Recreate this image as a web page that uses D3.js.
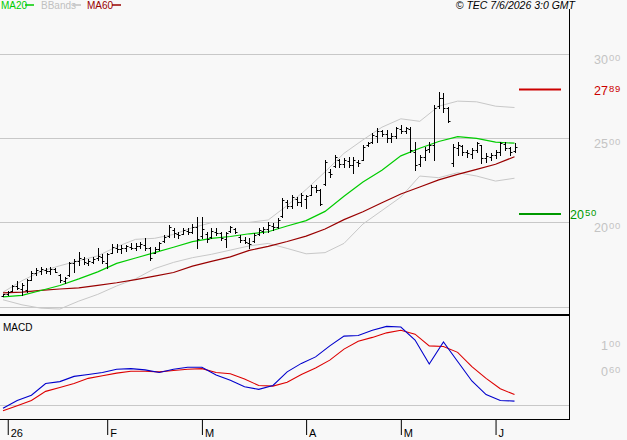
<!DOCTYPE html>
<html>
<head>
<meta charset="utf-8">
<script src="https://cdn.jsdelivr.net/npm/d3@7"></script>
<style>
  body { margin: 0; background: #f8f8f8; }
  svg { display: block; font-family: "Liberation Sans", Arial, sans-serif; }
</style>
</head>
<body>
<div id="chart"></div>
<script>
// daily bars, 31 Dec 2025 .. 5 Jun 2026
const holidays = ["2026-01-01", "2026-04-03", "2026-04-06", "2026-05-01"];
const monthLabels = ["26", "F", "M", "A", "M", "J"];

const opens = [1565,1572,1595,1620,1605,1600,1660,1700,1712,1718,1710,1720,1690,1650,1685,1760,1770,1785,1760,1765,
  1790,1795,1760,1820,1850,1840,1848,1855,1850,1858,1865,1845,1820,1840,1890,1920,1955,1930,1930,1950,
  1945,1970,1920,1930,1910,1945,1935,1900,1950,1960,1915,1895,1880,1890,1930,1950,1960,1980,1975,2035,
  2120,2100,2140,2120,2140,2165,2210,2190,2225,2300,2335,2370,2345,2365,2340,2360,2372,2458,2475,2515,
  2540,2525,2500,2510,2555,2545,2555,2420,2345,2390,2435,2460,2690,2740,2680,2350,2440,2455,2420,2405,
  2430,2460,2380,2390,2400,2415,2465,2440,2425];
const highs = [1577,1593,1627,1653,1641,1662,1710,1726,1736,1726,1732,1726,1696,1676,1766,1782,1825,1795,1785,1795,
  1849,1811,1815,1869,1869,1865,1865,1875,1875,1885,1905,1855,1855,1885,1924,1984,1964,1944,1968,1968,
  1988,2032,2032,1944,1964,1968,1944,1944,1980,1968,1924,1914,1905,1934,1964,1974,2004,1994,2024,2143,
  2133,2162,2153,2172,2162,2222,2222,2196,2371,2315,2401,2375,2381,2391,2387,2371,2460,2480,2530,2559,
  2549,2549,2530,2569,2579,2569,2569,2480,2401,2450,2475,2698,2772,2768,2688,2465,2480,2460,2430,2440,
  2480,2460,2411,2411,2430,2480,2480,2450,2470];
const lows = [1563,1567,1593,1601,1567,1587,1657,1686,1696,1700,1696,1702,1647,1637,1680,1706,1746,1752,1746,1756,
  1776,1756,1726,1815,1825,1819,1831,1841,1835,1845,1835,1776,1815,1835,1885,1914,1914,1908,1928,1928,
  1934,1845,1905,1885,1905,1924,1895,1855,1944,1934,1885,1875,1850,1885,1924,1934,1944,1954,1964,2030,
  2083,2083,2103,2097,2083,2162,2182,2103,2222,2272,2331,2327,2331,2327,2291,2337,2371,2454,2470,2480,
  2510,2480,2480,2500,2530,2530,2420,2311,2336,2371,2415,2371,2678,2655,2596,2336,2401,2401,2391,2381,
  2420,2351,2361,2371,2381,2401,2430,2401,2420];
const closes = [1572,1588,1620,1610,1630,1655,1700,1715,1720,1712,1722,1705,1660,1670,1760,1770,1790,1765,1770,1785,
  1800,1770,1810,1855,1840,1850,1858,1850,1860,1870,1850,1790,1840,1875,1915,1970,1935,1925,1955,1945,
  1975,1900,1960,1900,1950,1935,1905,1935,1970,1945,1895,1885,1870,1925,1955,1960,1985,1970,2015,2130,
  2100,2150,2120,2160,2155,2210,2195,2110,2360,2290,2390,2345,2370,2340,2370,2350,2450,2470,2520,2540,
  2525,2500,2515,2560,2545,2560,2430,2340,2390,2430,2460,2680,2740,2680,2600,2450,2460,2420,2410,2430,
  2470,2380,2395,2400,2420,2470,2440,2420,2450];

// indicator lines, one value every 4 bars
const lineStep = 4;
const ma20 = [1557,1566,1595,1625,1664,1706,1756,1788,1820,1852,1885,1905,1916,1932,1944,1978,2010,2065,2155,2240,2310,2395,2440,2480,2509,2499,2476,2470];
const ma60 = [1581,1585,1596,1604,1611,1625,1641,1660,1680,1702,1740,1768,1795,1833,1857,1886,1918,1960,2016,2063,2116,2168,2210,2252,2285,2315,2345,2390];
const bbUpper = [1585,1653,1708,1742,1772,1801,1855,1899,1905,1928,1968,1998,2000,2000,2014,2100,2195,2300,2410,2490,2565,2615,2600,2690,2720,2716,2690,2682];
const bbLower = [1540,1510,1490,1485,1532,1572,1622,1665,1725,1762,1790,1810,1835,1860,1875,1845,1813,1820,1875,1990,2070,2150,2275,2265,2295,2275,2245,2262];

// MACD panel, one value every 3 bars
const macdStep = 3;
const macd = [-5,7,15,33,36,44,47,50,55,56,54,50,55,58,58,46,38,28,24,30,51,64,74,91,106,107,115,121,120,100,63,97,67,37,16,7,6];
const signal = [-9,-1,7,21,27,33,41,45,49,52,52,51,53,55,56,50,48,40,30,29,35,47,57,69,86,98,104,111,115,109,91,90,81,59,41,25,16];

const priceTicks = [2000, 2500, 3000];
const priceGrid = [1500, 2000, 2500, 3000];
const macdTicks = [100, 60];
const levels = [{ v: 2789, color: "#cc0000", lx: 594 }, { v: 2050, color: "#009900", lx: 570 }];

const width = 627, height = 440;
const right = 569.5;

const dates = d3.timeDay.range(new Date(2025, 11, 31), new Date(2026, 5, 6))
  .filter(d => d.getDay() !== 0 && d.getDay() !== 6 && !holidays.includes(d3.timeFormat("%Y-%m-%d")(d)));
const monthIdx = [];
dates.forEach((d, i) => {
  if (i > 0 && d.getMonth() !== dates[i - 1].getMonth()) monthIdx.push(i);
});

const svg = d3.select("#chart").append("svg")
  .attr("width", width)
  .attr("height", height);

svg.append("rect").attr("width", width).attr("height", height).attr("fill", "#f8f8f8");

const x = d3.scaleLinear().domain([0, dates.length - 1]).range([3, 514.5]);
const y = d3.scaleLinear().domain([1500, 3000]).range([306.5, 54]);
const ym = d3.scaleLinear().domain([0, 100]).range([405, 340]);

const px = i => Math.round(x(i)) + 0.5;

// grid
svg.selectAll("line.grid")
  .data(priceGrid)
  .enter().append("line")
  .attr("class", "grid")
  .attr("x1", 0).attr("x2", right)
  .attr("y1", d => Math.round(y(d)) + 0.5)
  .attr("y2", d => Math.round(y(d)) + 0.5)
  .attr("stroke", "#c8c8c8");

svg.append("line")
  .attr("x1", 0).attr("x2", right)
  .attr("y1", ym(0) + 0.5).attr("y2", ym(0) + 0.5)
  .attr("stroke", "#c8c8c8");

// superscript style labels: "30" + small "00"
function supLabel(g, big, small, color) {
  let t = g.append("text").attr("fill", color);
  t.append("tspan").attr("font-size", 12.5).text(big);
  t.append("tspan").attr("font-size", 9.5).attr("dx", 1).attr("dy", -3).attr("letter-spacing", 0.8).text(small);
  return t;
}

priceTicks.forEach(v => {
  let g = svg.append("g").attr("transform", "translate(594," + (y(v) + 10) + ")");
  supLabel(g, String(Math.floor(v / 100)), String(v % 100).padStart(2, "0"), "#c4c4c4");
});

macdTicks.forEach(v => {
  let g = svg.append("g").attr("transform", "translate(601," + (ym(v) + 9.5) + ")");
  supLabel(g, String(Math.floor(v / 100)), String(v % 100).padStart(2, "0"), "#c4c4c4");
});

// level lines
levels.forEach(l => {
  svg.append("line")
    .attr("x1", 519).attr("x2", 561)
    .attr("y1", y(l.v)).attr("y2", y(l.v))
    .attr("stroke", l.color).attr("stroke-width", 2);
  let g = svg.append("g").attr("transform", "translate(" + l.lx + "," + (y(l.v) + 5) + ")");
  supLabel(g, String(Math.floor(l.v / 100)), String(l.v % 100).padStart(2, "0"), l.color);
});

// indicator lines
const sampled = (arr, step, scale) => d3.line()
  .x((d, i) => x(i * step))
  .y(d => scale(d))(arr);

[[bbUpper, "#c8c8c8", 1], [bbLower, "#c8c8c8", 1], [ma60, "#990000", 1.2], [ma20, "#00cc00", 1.2]]
  .forEach(([arr, color, w]) => {
    svg.append("path")
      .attr("d", sampled(arr, lineStep, y))
      .attr("fill", "none")
      .attr("stroke", color)
      .attr("stroke-width", w);
  });

// OHLC bars
const bar = svg.append("g").attr("stroke", "#000").attr("stroke-width", 1);
bar.selectAll("line.hl")
  .data(highs)
  .enter().append("line")
  .attr("x1", (d, i) => px(i)).attr("x2", (d, i) => px(i))
  .attr("y1", d => Math.round(y(d)))
  .attr("y2", (d, i) => Math.round(y(lows[i])) + 1);
bar.selectAll("line.op")
  .data(opens)
  .enter().append("line")
  .attr("x1", (d, i) => px(i) - 2).attr("x2", (d, i) => px(i))
  .attr("y1", d => Math.round(y(d)) + 0.5).attr("y2", d => Math.round(y(d)) + 0.5);
bar.selectAll("line.cl")
  .data(closes)
  .enter().append("line")
  .attr("x1", (d, i) => px(i)).attr("x2", (d, i) => px(i) + 2)
  .attr("y1", d => Math.round(y(d)) + 0.5).attr("y2", d => Math.round(y(d)) + 0.5);

// MACD
[[signal, "#dd0000"], [macd, "#0000cc"]].forEach(([arr, color]) => {
  svg.append("path")
    .attr("d", sampled(arr, macdStep, ym))
    .attr("fill", "none")
    .attr("stroke", color)
    .attr("stroke-width", 1.1);
});

// frame
svg.append("line").attr("x1", right).attr("x2", right).attr("y1", 9).attr("y2", 420)
  .attr("stroke", "#000");
svg.append("line").attr("x1", 0).attr("x2", right + 0.5).attr("y1", 315).attr("y2", 315)
  .attr("stroke", "#000").attr("stroke-width", 2);
svg.append("line").attr("x1", 0).attr("x2", right + 0.5).attr("y1", 419.5).attr("y2", 419.5)
  .attr("stroke", "#000");

// time axis
const xAxis = d3.axisBottom(x)
  .tickValues(monthIdx)
  .tickSize(15)
  .tickFormat((d, i) => monthLabels[i]);
const ax = svg.append("g").attr("transform", "translate(0,420)").call(xAxis);
ax.select(".domain").remove();
ax.selectAll("line").attr("stroke", "#000");
ax.selectAll("text")
  .attr("text-anchor", "start")
  .attr("x", 2.5).attr("y", 17).attr("dy", 0)
  .attr("font-size", 11)
  .attr("font-family", "Liberation Sans, Arial, sans-serif")
  .attr("fill", "#000");

// legend
const legend = [
  { name: "MA20", color: "#00cc00", tx: 1, l: [25, 34] },
  { name: "BBands", color: "#c0c0c0", tx: 41, l: [73, 81] },
  { name: "MA60", color: "#990000", tx: 87, l: [112, 121] }
];
legend.forEach(d => {
  svg.append("text").attr("x", d.tx).attr("y", 9).attr("font-size", 10)
    .attr("fill", d.color).text(d.name);
  svg.append("line").attr("x1", d.l[0]).attr("x2", d.l[1]).attr("y1", 5).attr("y2", 5)
    .attr("stroke", d.color).attr("stroke-width", 1.5);
});

svg.append("text").attr("x", 575).attr("y", 9).attr("text-anchor", "end")
  .attr("font-size", 10.5).attr("font-style", "italic").attr("fill", "#000")
  .text("\u00a9 TEC 7/6/2026 3:0 GMT");

svg.append("text").attr("x", 3).attr("y", 331).attr("font-size", 10)
  .attr("fill", "#000").text("MACD");
</script>
</body>
</html>
